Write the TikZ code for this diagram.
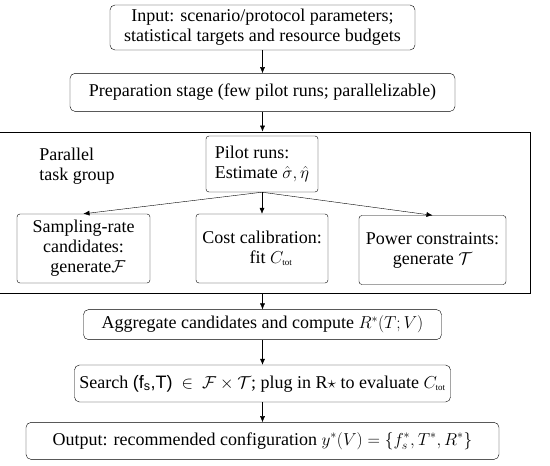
\documentclass[tikz,border=0pt]{standalone}
\usepackage{amsmath}
\usepackage{fontspec}
\setmainfont{Liberation Serif}
\setsansfont{Liberation Sans}
\usepackage{tikz}
\usetikzlibrary{arrows.meta,positioning}

\begin{document}
\begin{tikzpicture}[x=1pt,y=-1pt,
  blk/.style={draw,rounded corners=5pt,align=center,inner sep=1pt,
              font=\fontsize{18}{20}\selectfont},
  sub/.style={draw,rounded corners=3pt,align=center,inner sep=1pt,
              minimum height=69pt,font=\fontsize{18}{20}\selectfont},
  arr/.style={-{Latex[length=6pt,width=5pt]},thin}
]
\useasboundingbox (0,0) rectangle (550,466);
% main chain
\node[blk,minimum width=305pt,minimum height=45pt] (in) at (262.5,27.5)
  {Input: scenario/protocol parameters;\\statistical targets and resource budgets};
\node[blk,minimum width=385pt,minimum height=38pt,below=23pt of in] (prep)
  {Preparation stage (few pilot runs; parallelizable)};
\node[draw,thick,minimum width=536pt,minimum height=161pt,inner sep=0pt,
      below=20pt of prep] (grp) {};
% parallel task group
\node[font=\fontsize{18}{20}\selectfont,align=left] (lbl) at (77,166)
  {Parallel\\task group};
\node[sub,align=left,minimum width=112pt,minimum height=56pt] (pilot) at (262,164)
  {Pilot runs:\\Estimate $\hat{\sigma},\hat{\eta}$};
\node[sub,minimum width=133pt] (samp) at (83.5,248.5)
  {Sampling-rate\\candidates:\\\ \ generate$\mathcal{F}$};
\node[sub,minimum width=132pt] (cost) at (262,248.5)
  {Cost calibration:\\\quad fit $C_{\scriptscriptstyle\mathrm{tot}}$};
\node[sub,minimum width=147pt] (pow) at (432.5,250)
  {Power constraints:\\generate $\mathcal{T}$};
\draw[arr] (pilot.south) -- (samp.north);
\draw[arr] (pilot.south) -- (cost.north);
\draw[arr] (pilot.south) -- (pow.north);
% after the group
\node[blk,minimum width=358pt,minimum height=30pt,below=16pt of grp] (agg)
  {Aggregate candidates and compute $R^*(T;V)$};
\node[blk,minimum width=376pt,minimum height=37pt,below=25pt of agg] (srch)
  {Search {\sffamily(f\textsubscript{s},T)}\enspace$\in$\enspace
   $\mathcal{F}\times\mathcal{T}$; plug in R$\star$ to evaluate $C_{\scriptscriptstyle\mathrm{tot}}$};
\node[blk,minimum width=473pt,minimum height=37pt,below=20pt of srch] (out)
  {Output: recommended configuration $y^*(V)=\{f_s^*,T^*,R^*\}$};
\draw[arr] (in) -- (prep);
\draw[arr] (prep) -- (grp);
\draw[arr] (grp) -- (agg);
\draw[arr] (agg) -- (srch);
\draw[arr] (srch) -- (out);
\end{tikzpicture}
\end{document}
